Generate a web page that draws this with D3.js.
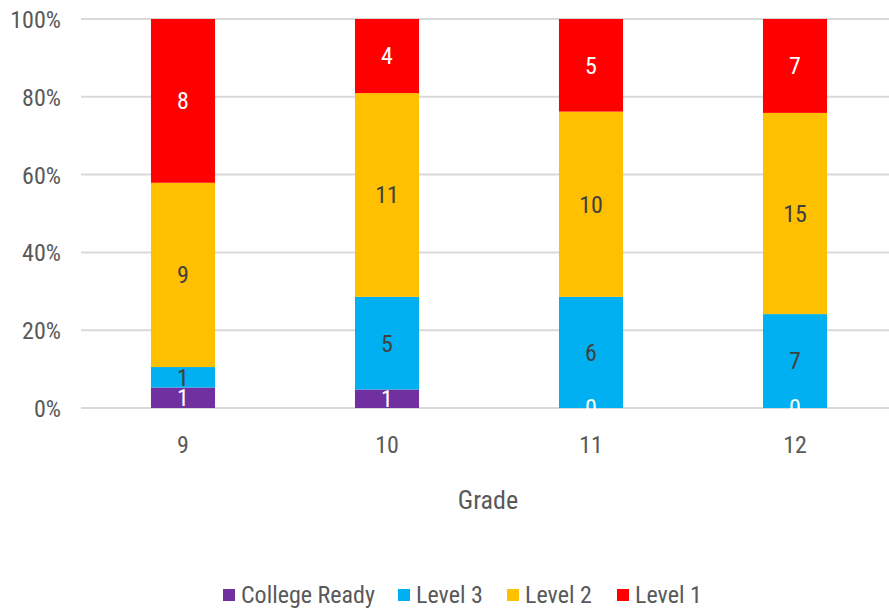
<!DOCTYPE html>
<html>
<head>
<meta charset="utf-8">
<script src="https://cdn.jsdelivr.net/npm/d3@7"></script>
<style>
  body { margin: 0; background: #fff; }
  svg text { font-family: "Liberation Sans Narrow", "Roboto Condensed", "DejaVu Sans Condensed", sans-serif; }
</style>
</head>
<body>
<svg id="chart" width="889" height="612"></svg>
<script>
// grades along the x axis
let grades = ["9", "10", "11", "12"];
// series, bottom to top
let seriesNames = ["College Ready", "Level 3", "Level 2", "Level 1"];
let collegeReady = [1, 1, 0, 0];
let level3 = [1, 5, 6, 7];
let level2 = [9, 11, 10, 15];
let level1 = [8, 4, 5, 7];
let yTicks = [0, 0.2, 0.4, 0.6, 0.8, 1];

let colors = ["#7030a0", "#00b0f0", "#ffc000", "#ff0000"];
let labelColors = ["#ffffff", "#404040", "#404040", "#ffffff"];

var svg = d3.select("#chart");

// build rows for the stack
var rows = grades.map(function(g, i) {
    return { grade: g, "College Ready": collegeReady[i], "Level 3": level3[i], "Level 2": level2[i], "Level 1": level1[i] };
});

var stacked = d3.stack().keys(seriesNames).offset(d3.stackOffsetExpand)(rows);

var x = d3.scaleBand().domain(grades).range([81, 897]).paddingInner(0.686).paddingOuter(0.343);
var y = d3.scaleLinear().domain([0, 1]).range([408, 19]);

// gridlines
svg.append("g")
    .selectAll("line")
    .data(yTicks)
    .enter().append("line")
    .attr("x1", 81).attr("x2", 889)
    .attr("y1", function(d) { return y(d); })
    .attr("y2", function(d) { return y(d); })
    .attr("stroke", "#d9d9d9")
    .attr("stroke-width", 2);

// y axis labels
var yAxis = d3.axisLeft(y).tickValues(yTicks).tickFormat(d3.format(".0%")).tickSize(0).tickPadding(0);
var gy = svg.append("g").attr("transform", "translate(61,0)").call(yAxis);
gy.select(".domain").remove();
gy.selectAll("text").attr("fill", "#595959").style("font-size", "24px").attr("dy", "0.35em");

// x axis labels
var xAxis = d3.axisBottom(x).tickSize(0).tickPadding(0);
var gx = svg.append("g").attr("transform", "translate(0,436)").call(xAxis);
gx.select(".domain").remove();
gx.selectAll("text").attr("fill", "#595959").style("font-size", "24px");

// bars
var layer = svg.append("g")
    .selectAll("g")
    .data(stacked)
    .enter().append("g")
    .attr("fill", function(d, i) { return colors[i]; });

layer.selectAll("rect")
    .data(function(d) { return d; })
    .enter().append("rect")
    .attr("x", function(d) { return x(d.data.grade); })
    .attr("y", function(d) { return y(d[1]); })
    .attr("width", x.bandwidth())
    .attr("height", function(d) { return y(d[0]) - y(d[1]); });

// data labels
stacked.forEach(function(s, si) {
    svg.append("g")
        .selectAll("text")
        .data(s)
        .enter().append("text")
        .attr("x", function(d) { return x(d.data.grade) + x.bandwidth() / 2; })
        .attr("y", function(d) { return (y(d[0]) + y(d[1])) / 2; })
        .attr("dy", "0.35em")
        .attr("text-anchor", "middle")
        .attr("fill", labelColors[si])
        .style("font-size", "24px")
        .text(function(d) { return d.data[s.key]; });
});

// axis title
svg.append("text")
    .attr("x", 488).attr("y", 509)
    .attr("text-anchor", "middle")
    .attr("fill", "#595959")
    .style("font-size", "26px")
    .text("Grade");

// legend
var legendX = [223, 398, 507, 617];
var legend = svg.append("g")
    .selectAll("g")
    .data(seriesNames)
    .enter().append("g")
    .attr("transform", function(d, i) { return "translate(" + legendX[i] + ",595)"; });

legend.append("rect")
    .attr("x", 0).attr("y", -6)
    .attr("width", 12).attr("height", 12)
    .attr("fill", function(d, i) { return colors[i]; });

legend.append("text")
    .attr("x", 18).attr("y", 0)
    .attr("dy", "0.35em")
    .attr("fill", "#595959")
    .style("font-size", "24px")
    .text(function(d) { return d; });
</script>
</body>
</html>
